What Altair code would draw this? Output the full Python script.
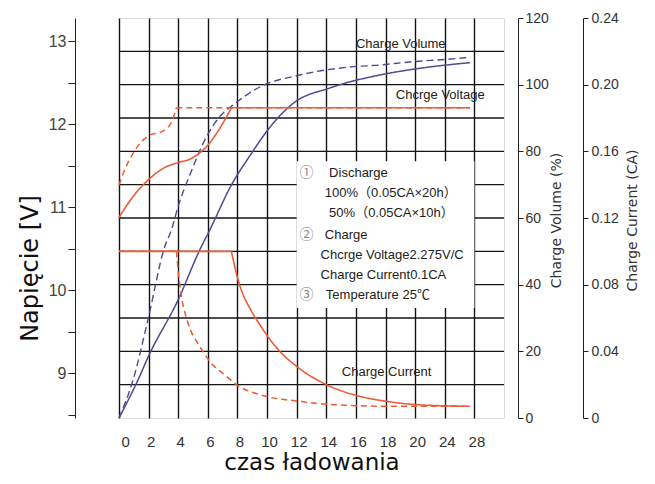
import json
import altair as alt
import pandas as pd

ORANGE = "#ef5a36"
BLUE = "#4e4b92"
GRID = "#141414"
FONT = "Liberation Sans, Noto Sans CJK SC"

# ---- axes / ticks ----
x_tick_vals = [0, 2, 4, 6, 8, 10, 12, 14, 16, 18, 20, 22, 24]
x_tick_labels = ["0", "2", "4", "6", "8", "10", "12", "14", "16", "18", "20", "24", "28"]
hgrid_vals = [10, 20, 30, 40, 50, 60, 70, 80, 90, 100, 110]
volt_tick_vals = [8.5, 9, 9.5, 10, 10.5, 11, 11.5, 12, 12.5, 13]
vol_tick_vals = [0, 20, 40, 60, 80, 100, 120]
cur_tick_vals = [0, 0.04, 0.08, 0.12, 0.16, 0.20, 0.24]
cur_tick_labels = ["0", "0.04", "0.08", "0.12", "0.16", "0.20", "0.24"]

end_t = 23.7
charge_voltage = 12.20

# ---- charge voltage (V) ----
volt100_t = [0, 0.95, 2.03, 2.98, 4.0, 4.78, 5.34, 5.9, 6.58, 7.6]
volt100_v = [10.88, 11.13, 11.34, 11.47, 11.54, 11.58, 11.64, 11.73, 11.89, 12.20]
volt50_t = [0, 0.38, 0.95, 1.62, 2.07, 2.86, 3.43, 3.65, 3.87]
volt50_v = [11.27, 11.45, 11.65, 11.81, 11.87, 11.91, 11.99, 12.07, 12.20]

# ---- charge volume (%) ----
vol100_t = [0, 1.28, 2.03, 3.99, 5.45, 6.13, 7.59, 8.95, 9.96, 11.76, 14.24, 17.61, 19.84, 22.12, 23.7]
vol100_v = [0, 11.4, 18.9, 35.4, 50.4, 56.4, 69.9, 79.4, 85.9, 94.4, 99.0, 102.9, 104.6, 105.9, 106.6]
vol50_t = [0, 0.95, 1.96, 3.09, 3.54, 3.99, 4.78, 5.91, 6.80, 7.70, 9.51, 12.21, 15.59, 17.61, 19.84, 22.12, 23.7]
vol50_v = [0, 11.4, 29.6, 51.4, 56.4, 63.4, 72.9, 84.4, 90.4, 93.9, 99.3, 102.9, 105.3, 105.9, 106.9, 107.6, 108.2]

# ---- charge current (CA) ----
cur100_t = [7.59, 8.04, 8.95, 9.51, 9.96, 10.86, 11.99, 14.01, 16.26, 18.07, 20.09, 23.7]
cur100_v = [0.100, 0.083, 0.064, 0.056, 0.050, 0.040, 0.031, 0.020, 0.013, 0.010, 0.008, 0.007]
cur50_t = [3.88, 3.99, 4.22, 4.66, 5.45, 6.13, 7.26, 7.93, 9.51, 12.21, 14.46, 18.97, 23.7]
cur50_v = [0.100, 0.089, 0.073, 0.057, 0.043, 0.034, 0.025, 0.020, 0.014, 0.010, 0.008, 0.007, 0.007]

# ---- annotations ----
ann_text = ["Charge Volume", "Chcrge Voltage", "Charge Current"]
ann_t = [19.03, 21.7, 18.07]
ann_y = [112.2, 96.9, 13.95]

box_t = [12, 24]
box_y = [33.0, 77.0]

legend_text = ["Discharge", "100%（0.05CA×20h）", "50%（0.05CA×10h）", "Charge",
               "Chcrge Voltage2.275V/C", "Charge Current0.1CA", "Temperature 25℃"]
legend_t = [14.19, 13.9, 14.19, 13.9, 13.61, 13.61, 13.97]
legend_y = [73.5, 67.6, 61.6, 54.9, 48.9, 42.9, 36.9]
circ_text = ["①", "②", "③"]
circ_t = [12.66, 12.66, 12.66]
circ_y = [73.5, 54.9, 36.9]


def pieces(*parts):
    rows = []
    for pid, (ts, vs) in enumerate(parts):
        for t, v in zip(ts, vs):
            rows.append({"t": t, "v": v, "piece": pid})
    return pd.DataFrame(rows)


x_label_expr = f"{json.dumps(x_tick_labels)}[indexof({json.dumps(x_tick_vals)}, datum.value)]"
cur_label_expr = f"{json.dumps(cur_tick_labels)}[indexof({json.dumps(cur_tick_vals)}, datum.value)]"

x_axis = alt.Axis(values=x_tick_vals, labelExpr=x_label_expr, grid=True, gridColor=GRID,
                  gridWidth=1.4, domain=False, ticks=False, labelPadding=16, labelOffset=2,
                  labelFont=FONT, labelFontSize=15, labelColor="#333",
                  title="czas ładowania", titleFont="DejaVu Sans", titleFontSize=23,
                  titleFontWeight="normal", titleColor="#111", titleY=51,
                  titleBaseline="alphabetic")
x_enc = alt.X("t:Q", scale=alt.Scale(domain=[0, 26], nice=False, zero=False), axis=x_axis)

vol_scale = alt.Scale(domain=[0, 120], nice=False, zero=False)
vol_axis = alt.Axis(orient="right", offset=14, values=vol_tick_vals, grid=False,
                    domainColor="#222", tickColor="#222", tickSize=5, labelPadding=2,
                    labelFont=FONT, labelFontSize=14, labelColor="#333",
                    title="Charge Volume  (%)", titleFont="DejaVu Sans", titleFontSize=14,
                    titleFontWeight="normal", titleColor="#333", titleAngle=270,
                    titleX=38, titleY=202, titleAlign="center", titleBaseline="middle")

volt_scale = alt.Scale(domain=[8.464, 13.28], nice=False, zero=False)
volt_axis = alt.Axis(orient="left", offset=44, values=volt_tick_vals,
                     labelExpr="datum.value % 1 == 0 ? format(datum.value, 'd') : ''",
                     grid=False, domainColor="#222", tickColor="#222", tickSize=7,
                     labelPadding=2, labelFont=FONT, labelFontSize=16, labelColor="#444",
                     title="Napięcie [V]", titleFont="DejaVu Sans", titleFontSize=24,
                     titleFontWeight="normal", titleColor="#111", titleAngle=270,
                     titleX=-45, titleY=250, titleAlign="center", titleBaseline="middle")

cur_scale = alt.Scale(domain=[0, 0.24], nice=False, zero=False)
cur_axis = alt.Axis(orient="right", offset=79, values=cur_tick_vals, labelExpr=cur_label_expr,
                    grid=False, domainColor="#222", tickColor="#222", tickSize=5,
                    labelPadding=3, labelFont=FONT, labelFontSize=14, labelColor="#333",
                    title="Charge Current (CA)", titleFont="DejaVu Sans", titleFontSize=14,
                    titleFontWeight="normal", titleColor="#333", titleAngle=270,
                    titleX=49, titleY=202, titleAlign="center", titleBaseline="middle")


def line_layer(df, color, dash, width, y_field, scale, axis):
    return alt.Chart(df).mark_line(color=color, strokeWidth=width, strokeDash=dash,
                                   interpolate="monotone").encode(
        x=x_enc,
        y=alt.Y(f"{y_field}:Q", scale=scale, axis=axis),
        detail="piece:N",
        order="t:Q",
    )


# ---- volume group (grid rows, legend box, texts, blue curves) ----
grid_df = pd.DataFrame({"v": hgrid_vals})
grid_layer = alt.Chart(grid_df).mark_rule(color=GRID, strokeWidth=1.4).encode(
    y=alt.Y("v:Q", scale=vol_scale, axis=vol_axis))

box_df = pd.DataFrame({"t": [box_t[0]], "t2": [box_t[1]], "v": [box_y[0]], "v2": [box_y[1]]})
box_layer = alt.Chart(box_df).mark_rect(color="white", opacity=1).encode(
    x=x_enc, x2="t2:Q", y=alt.Y("v:Q", scale=vol_scale, axis=vol_axis), y2="v2:Q")

vol100_df = pieces((vol100_t, vol100_v))
vol50_df = pieces((vol50_t, vol50_v))
vol_lines = [
    line_layer(vol50_df, BLUE, [7, 4], 1.4, "v", vol_scale, vol_axis),
    line_layer(vol100_df, BLUE, [1, 0], 1.5, "v", vol_scale, vol_axis),
]

ann_df = pd.DataFrame({"t": ann_t, "v": ann_y, "label": ann_text})
ann_layer = alt.Chart(ann_df).mark_text(font=FONT, fontSize=13, color="#222",
                                        align="center", baseline="middle").encode(
    x=x_enc, y=alt.Y("v:Q", scale=vol_scale, axis=vol_axis), text="label:N")

leg_df = pd.DataFrame({"t": legend_t, "v": legend_y, "label": legend_text})
leg_layer = alt.Chart(leg_df).mark_text(font=FONT, fontSize=13, color="#222",
                                        align="left", baseline="middle").encode(
    x=x_enc, y=alt.Y("v:Q", scale=vol_scale, axis=vol_axis), text="label:N")

circ_df = pd.DataFrame({"t": circ_t, "v": circ_y, "label": circ_text})
circ_layer = alt.Chart(circ_df).mark_text(font="Noto Sans CJK SC", fontSize=14, color="#888",
                                          align="center", baseline="middle").encode(
    x=x_enc, y=alt.Y("v:Q", scale=vol_scale, axis=vol_axis), text="label:N")

vol_group = alt.layer(grid_layer, box_layer, *vol_lines, ann_layer, leg_layer, circ_layer)

# ---- voltage group ----
volt100_df = pieces((volt100_t, volt100_v), ([volt100_t[-1], end_t], [charge_voltage, charge_voltage]))
volt50_df = pieces((volt50_t, volt50_v), ([volt50_t[-1], end_t], [charge_voltage, charge_voltage]))
volt_group = alt.layer(
    line_layer(volt50_df, ORANGE, [6, 4], 1.5, "v", volt_scale, volt_axis),
    line_layer(volt100_df, ORANGE, [1, 0], 1.6, "v", volt_scale, volt_axis),
)

# ---- current group ----
cur100_df = pieces(([0, cur100_t[0]], [cur100_v[0], cur100_v[0]]), (cur100_t, cur100_v))
cur50_df = pieces(([0, cur50_t[0]], [cur50_v[0], cur50_v[0]]), (cur50_t, cur50_v))
cur_group = alt.layer(
    line_layer(cur50_df, ORANGE, [6, 4], 1.5, "v", cur_scale, cur_axis),
    line_layer(cur100_df, ORANGE, [1, 0], 1.6, "v", cur_scale, cur_axis),
)

chart = alt.layer(vol_group, volt_group, cur_group).resolve_scale(y="independent").properties(
    width=385, height=400,
    autosize=alt.AutoSizeParams(type="none"),
    padding={"left": 111, "top": 10, "right": 138, "bottom": 58},
).configure_view(stroke="#111", strokeWidth=1.4).configure(background="white")

chart.save("out.html", embed_options={"renderer": "svg", "actions": False})
